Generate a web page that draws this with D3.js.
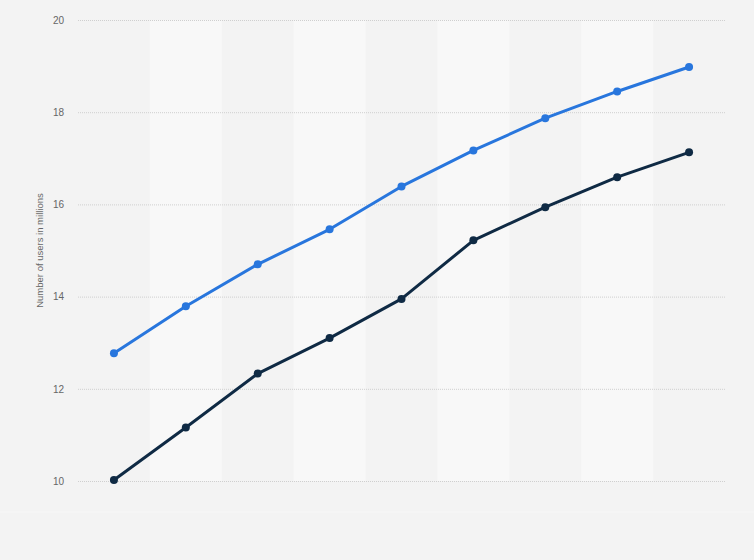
<!DOCTYPE html>
<html lang="en">
<head>
	<meta charset="UTF-8">
	<title>Number of users in millions</title>
	<script src="https://cdn.jsdelivr.net/npm/d3@7/dist/d3.min.js"></script>
	<style>
	body {
		margin: 0;
		background-color: #f3f3f3;
	}
	svg {
		display: block;
		font-family: "Liberation Sans", Arial, sans-serif;
	}
	.tick text {
		fill: #666;
		font-size: 10px;
	}
	</style>
</head>
<body>
<script>
	// categories are not labelled in the chart, one per point
	var categories = ['1', '2', '3', '4', '5', '6', '7', '8', '9'];
	var seriesBlue = [12.77, 13.79, 14.70, 15.46, 16.39, 17.17, 17.87, 18.45, 18.98];
	var seriesDark = [10.02, 11.16, 12.33, 13.10, 13.95, 15.22, 15.94, 16.59, 17.13];
	var yTicks = [10, 12, 14, 16, 18, 20];

	var width = 754, height = 560;
	var margin = {top: 20, right: 29, bottom: 79, left: 78};

	var svg = d3.select('body').append('svg')
		.attr('width', width)
		.attr('height', height);

	var x = d3.scaleBand()
		.domain(categories)
		.range([margin.left, width - margin.right])
		.padding(0);

	var y = d3.scaleLinear()
		.domain([10, 20])
		.range([height - margin.bottom, margin.top]);

	// alternating column shading
	svg.append('g').selectAll('rect')
		.data(categories.filter(function(d, i) { return i % 2 === 1; }))
		.enter()
		.append('rect')
		.attr('x', function(d) { return x(d); })
		.attr('y', margin.top)
		.attr('width', x.bandwidth())
		.attr('height', y(10) - y(20))
		.style('fill', '#f8f8f8');

	svg.append('line')
		.attr('x1', 0).attr('x2', width)
		.attr('y1', 512).attr('y2', 512)
		.style('stroke', '#f7f7f7');

	// grid + y axis
	var yAxis = svg.append('g')
		.attr('transform', 'translate(' + margin.left + ',0)')
		.call(d3.axisLeft(y)
			.tickValues(yTicks)
			.tickSize(-(width - margin.left - margin.right))
			.tickPadding(14));
	yAxis.select('.domain').remove();
	yAxis.selectAll('.tick line')
		.style('stroke', '#cfcfcf')
		.style('stroke-dasharray', '1,1');

	svg.append('text')
		.attr('transform', 'rotate(-90)')
		.attr('x', -(y(15)))
		.attr('y', 43)
		.style('text-anchor', 'middle')
		.style('font-size', '9.5px')
		.style('fill', '#666')
		.text('Number of users in millions');

	var line = d3.line()
		.x(function(d, i) { return x(categories[i]) + x.bandwidth() / 2; })
		.y(function(d) { return y(d); });

	function drawSeries(values, color) {
		svg.append('path')
			.datum(values)
			.attr('d', line)
			.style('fill', 'none')
			.style('stroke', color)
			.style('stroke-width', 3)
			.style('stroke-linejoin', 'round');

		svg.append('g').selectAll('circle')
			.data(values)
			.enter()
			.append('circle')
			.attr('cx', function(d, i) { return x(categories[i]) + x.bandwidth() / 2; })
			.attr('cy', function(d) { return y(d); })
			.attr('r', 4)
			.style('fill', color);
	}

	drawSeries(seriesBlue, '#2876dd');
	drawSeries(seriesDark, '#0f2a44');
</script>
</body>
</html>
